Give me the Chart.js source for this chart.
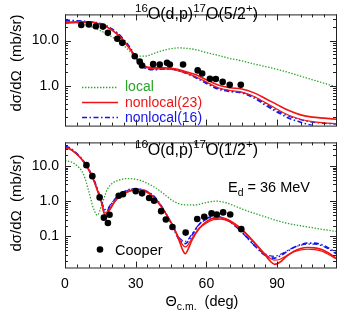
<!DOCTYPE html>
<html><head><meta charset="utf-8">
<script src="https://cdn.jsdelivr.net/npm/chart.js@4"></script>
<style>html,body{margin:0;padding:0;background:#fff}#wrap{position:relative;width:348px;height:312px;overflow:hidden;background:#fff}canvas{position:absolute;left:0}</style>
</head><body><div id="wrap"><canvas id="c1" width="348" height="140" style="top:0;width:348px;height:140px"></canvas><canvas id="c2" width="348" height="184" style="top:128px;width:348px;height:184px"></canvas></div>
<script>
// ---------- DATA ----------
// Top panel: 16O(d,p)17O(5/2+)
const topExpAng = [6.9,10.1,13.1,16.1,18.2,22.2,24.3,29.6,31.7,32.7,37.4,40.2,43.3,44.5,50.1,56.3,58.2,61.5,64.0,66.9,69.9,74.6];
const topExpVal = [22.1,22.8,20.7,20.4,14.8,11.0,8.9,4.5,3.4,2.8,3.0,2.95,3.2,2.95,2.95,2.18,1.86,1.42,1.40,1.21,1.04,1.04];
const topLocalAng = [0,5,10,15,20,25,28,31,34,37,40,45,48,52,56,60,65,70,75,80,85,90,95,100,105,110,115];
const topLocalVal = [26,25,21,16.5,12,7.7,5.5,4.5,4.5,5.0,5.7,6.6,6.85,6.7,6.2,5.4,4.7,4.0,3.55,3.05,2.65,2.3,1.95,1.62,1.35,1.13,0.94];
const topCurveAng = [0,5,10,15,20,24,28,31,34,38,42,46,50,55,60,65,70,75,80,85,90,95,100,105,110,115];
const topNL23aVal = [25,26,26,23,17,11,6,3.6,2.7,2.5,2.5,2.4,2.15,1.78,1.35,1.03,0.9,0.84,0.7,0.52,0.38,0.28,0.225,0.2,0.19,0.18];
const topNL23bVal = [24,25,25.5,23,17,11.5,6.2,3.6,2.6,2.35,2.35,2.25,2.0,1.62,1.2,0.9,0.78,0.72,0.58,0.42,0.3,0.22,0.18,0.16,0.15,0.143];
const topNL16aVal = [28.5,27.5,26,24,18,12,6.5,3.5,2.45,2.25,2.35,2.3,2.0,1.55,1.12,0.84,0.74,0.69,0.54,0.37,0.26,0.19,0.155,0.13,0.115,0.105];
const topNL16bVal = [27,27,26,23.5,17.5,11.8,6.3,3.5,2.5,2.3,2.35,2.3,2.02,1.6,1.18,0.88,0.77,0.71,0.57,0.4,0.28,0.21,0.175,0.155,0.146,0.14];
// Bottom panel: 16O(d,p)17O(1/2+)
const botExpAng = [9.1,11.6,14.7,16.5,18.2,18.9,22.8,24.6,30.0,32.7,35.7,37.8,40.8,42.8,45.6,51.2,56.1,59.1,62.2,64.4,67.1,70.1,74.8];
const botExpVal = [10.6,5.15,1.28,0.34,0.24,0.41,1.43,1.57,1.93,1.67,1.23,1.03,0.52,0.30,0.185,0.128,0.31,0.36,0.45,0.42,0.48,0.42,0.16];
const botLocalAng = [0,4,8,10,12,13.7,15.5,18,20,22.5,26,29,32,35,38,42,46,50,55,60,64,68,72,76,80,85,90,95,100,105,110,115];
const botLocalVal = [14.5,11.7,5.5,2.0,0.65,0.4,0.75,2.2,3.2,3.9,4.4,4.3,3.9,3.2,2.5,1.6,1.0,0.8,0.78,0.92,1.0,0.92,0.73,0.57,0.46,0.36,0.28,0.23,0.2,0.176,0.155,0.138];
const botCurveAng = [0,2,4,6,8,10,12,14,15.5,16.8,18,19,21,23,26,29,31,34,37,40,43,46,48,50,51,52,54,57,60,63,66,69,72,75,78,81,84,87,89,91,94,97,100,103,106,109,112,115];
const botNL23aVal = [33,31,25,19,13,8,4.2,1.8,0.9,0.42,0.47,0.57,0.95,1.35,1.8,2.1,2.15,1.95,1.45,0.85,0.42,0.185,0.09,0.04,0.032,0.04,0.08,0.17,0.26,0.33,0.34,0.3,0.23,0.16,0.1,0.06,0.035,0.02,0.016,0.018,0.027,0.037,0.045,0.048,0.047,0.042,0.033,0.024];
const botNL23bVal = [32,30,24.5,18.5,12.8,7.9,4.2,1.85,0.95,0.48,0.5,0.62,0.95,1.33,1.75,2.05,2.1,1.9,1.42,0.82,0.42,0.19,0.1,0.056,0.05,0.055,0.09,0.17,0.24,0.3,0.31,0.28,0.21,0.15,0.095,0.058,0.036,0.024,0.021,0.022,0.028,0.036,0.041,0.043,0.042,0.038,0.03,0.023];
const botNL16aVal = [36,33,26,19.5,13.5,8.3,4.5,2.0,1.0,0.55,0.55,0.7,1.1,1.55,2.0,2.25,2.25,2.0,1.55,0.9,0.42,0.17,0.09,0.065,0.062,0.068,0.11,0.22,0.32,0.37,0.35,0.29,0.21,0.135,0.082,0.05,0.032,0.025,0.024,0.027,0.036,0.048,0.058,0.064,0.064,0.058,0.046,0.034];
const botNL16bVal = [34,32,25.5,19,13,8.1,4.4,1.95,1.0,0.58,0.6,0.75,1.1,1.5,1.95,2.2,2.2,1.95,1.5,0.88,0.42,0.18,0.1,0.075,0.072,0.078,0.12,0.22,0.3,0.34,0.33,0.28,0.2,0.13,0.08,0.05,0.034,0.028,0.027,0.03,0.038,0.048,0.056,0.06,0.06,0.054,0.043,0.032];
const xTicks = [0,30,60,90];
const yTickDecades = [0.1,1,10];

// ---------- STYLE ----------
const FONT = '"Liberation Sans", Arial, Helvetica, sans-serif';
const GREEN = 'rgb(40,165,40)', RED = 'rgb(240,20,20)', BLUE = 'rgb(20,20,235)';
Chart.defaults.font.family = FONT;
Chart.defaults.font.size = 14;
Chart.defaults.color = '#000';

const pts = (a, v) => a.map((x, i) => ({x: x, y: v[i]}));
function line(a, v, color, dash, w) {
  return {data: pts(a, v), showLine: true, borderColor: color, borderWidth: w, borderDash: dash,
    pointRadius: 0, fill: false, cubicInterpolationMode: 'monotone'};
}
function dots(a, v) {
  return {data: pts(a, v), showLine: false, pointRadius: 3.3, pointBackgroundColor: '#000', pointBorderWidth: 0};
}
const DOT = [1.4, 1.6], DASHDOT = [5, 2.5, 1.5, 2.5];

function rich(ctx, x, y, segs, size, color, align) {
  const f = s => `${s}px ${FONT}`;
  let w = 0;
  segs.forEach(s => { ctx.font = f(s.s ? size * 0.72 : size); w += ctx.measureText(s.t).width; });
  if (align === 'center') x -= w / 2;
  ctx.fillStyle = color; ctx.textBaseline = 'alphabetic'; ctx.textAlign = 'left';
  segs.forEach(s => {
    const sz = s.s ? size * 0.72 : size;
    ctx.font = f(sz);
    const dy = s.s === 'sup' ? -size * 0.42 : (s.s === 'sub' ? size * 0.28 : 0);
    ctx.fillText(s.t, x, y + dy);
    x += ctx.measureText(s.t).width;
  });
}

function frameAndTicks(chart, ctx) {
  const a = chart.chartArea, xs = chart.scales.x, ys = chart.scales.y;
  ctx.save();
  ctx.strokeStyle = '#222'; ctx.lineWidth = 1;
  ctx.strokeRect(a.left + 0.5, a.top + 0.5, a.right - a.left, a.bottom - a.top);
  ctx.beginPath();
  for (let v = 0; v <= xs.max + 1e-9; v += 5) {
    const p = Math.round(xs.getPixelForValue(v)) + 0.5, L = (v % 30 === 0) ? 6 : 3;
    ctx.moveTo(p, a.top); ctx.lineTo(p, a.top + L);
    ctx.moveTo(p, a.bottom); ctx.lineTo(p, a.bottom - L);
  }
  const d0 = Math.floor(Math.log10(ys.min)), d1 = Math.ceil(Math.log10(ys.max));
  for (let d = d0; d <= d1; d++) {
    for (let m = 1; m <= 9; m++) {
      const v = m * Math.pow(10, d);
      if (v < ys.min || v > ys.max) continue;
      const p = Math.round(ys.getPixelForValue(v)) + 0.5, L = m === 1 ? 6 : 3;
      ctx.moveTo(a.left, p); ctx.lineTo(a.left + L, p);
      ctx.moveTo(a.right, p); ctx.lineTo(a.right - L, p);
    }
  }
  ctx.stroke();
  ctx.restore();
}
function yTitle(ctx, cx, cy) {
  ctx.save();
  ctx.translate(cx, cy); ctx.rotate(-Math.PI / 2);
  ctx.font = `15px ${FONT}`; ctx.fillStyle = '#000'; ctx.textAlign = 'center'; ctx.textBaseline = 'middle';
  ctx.fillText('dσ/dΩ  (mb/sr)', 0, 0);
  ctx.restore();
}
function legendLine(ctx, x0, x1, y, color, dash, w) {
  ctx.save(); ctx.beginPath(); ctx.strokeStyle = color; ctx.lineWidth = w; ctx.setLineDash(dash);
  ctx.moveTo(x0, y); ctx.lineTo(x1, y); ctx.stroke(); ctx.restore();
}

const yTickCb = v => {
  const l = Math.log10(v);
  return Math.abs(l - Math.round(l)) < 1e-6 && yTickDecades.some(t => Math.abs(t - v) < 1e-9) ? v.toFixed(1) : null;
};
function yScale(min, max) {
  return {type: 'logarithmic', min: min, max: max,
    grid: {display: false, drawTicks: false}, border: {display: false},
    ticks: {autoSkip: false, padding: 6, color: '#000', font: {size: 14}, callback: yTickCb},
    afterFit: s => { s.width = 65; }};
}

// ---------- TOP CHART ----------
const topDeco = {
  id: 'topDeco',
  afterDraw(chart) {
    const ctx = chart.ctx;
    frameAndTicks(chart, ctx);
    yTitle(ctx, 17, 63);
    rich(ctx, 135, 18.5, [{t: '16', s: 'sup'}, {t: 'O(d,p)'}, {t: '17', s: 'sup'}, {t: 'O(5/2'}, {t: '+', s: 'sup'}, {t: ')'}], 16, '#000');
    legendLine(ctx, 82, 118, 87.5, GREEN, DOT, 1.3);
    legendLine(ctx, 82, 118, 102.5, RED, [], 1.6);
    legendLine(ctx, 82, 118, 117.5, BLUE, DASHDOT, 1.6);
    rich(ctx, 125, 91, [{t: 'local'}], 14, GREEN);
    rich(ctx, 125, 106.5, [{t: 'nonlocal(23)'}], 14, RED);
    rich(ctx, 125, 121.5, [{t: 'nonlocal(16)'}], 14, BLUE);
  }
};
new Chart(document.getElementById('c1'), {
  type: 'scatter',
  data: {datasets: [
    dots(topExpAng, topExpVal),
    line(topCurveAng, topNL23aVal, RED, [], 1.6),
    line(topCurveAng, topNL23bVal, RED, [], 1.2),
    line(topCurveAng, topNL16aVal, BLUE, DASHDOT, 1.6),
    line(topCurveAng, topNL16bVal, BLUE, DASHDOT, 1.2),
    line(topLocalAng, topLocalVal, GREEN, DOT, 1.3)
  ]},
  options: {
    responsive: false, animation: false, devicePixelRatio: 1,
    layout: {padding: {top: 3, bottom: 6, left: 0, right: 12}},
    plugins: {legend: {display: false}, tooltip: {enabled: false}},
    scales: {
      x: {type: 'linear', min: 0, max: 115, display: false},
      y: yScale(0.13, 38)
    }
  },
  plugins: [topDeco]
});

// ---------- BOTTOM CHART ----------
const botDeco = {
  id: 'botDeco',
  afterDraw(chart) {
    const ctx = chart.ctx;
    frameAndTicks(chart, ctx);
    ctx.save(); ctx.translate(0, -128);
    yTitle(ctx, 17, 203);
    rich(ctx, 135, 155, [{t: '16', s: 'sup'}, {t: 'O(d,p)'}, {t: '17', s: 'sup'}, {t: 'O(1/2'}, {t: '+', s: 'sup'}, {t: ')'}], 16, '#000');
    rich(ctx, 228, 192, [{t: 'E'}, {t: 'd', s: 'sub'}, {t: ' = 36 MeV'}], 14.5, '#000');
    ctx.beginPath(); ctx.fillStyle = '#000'; ctx.arc(100, 249.5, 3.3, 0, Math.PI * 2); ctx.fill();
    rich(ctx, 115, 254.5, [{t: 'Cooper'}], 14.5, '#000');
    rich(ctx, 202, 306, [{t: 'Θ'}, {t: 'c.m.', s: 'sub'}, {t: '  (deg)'}], 14.5, '#000', 'center');
    ctx.restore();
  }
};
new Chart(document.getElementById('c2'), {
  type: 'scatter',
  data: {datasets: [
    dots(botExpAng, botExpVal),
    line(botCurveAng, botNL23aVal, RED, [], 1.6),
    line(botCurveAng, botNL23bVal, RED, [], 1.2),
    line(botCurveAng, botNL16aVal, BLUE, DASHDOT, 1.6),
    line(botCurveAng, botNL16bVal, BLUE, DASHDOT, 1.2),
    line(botLocalAng, botLocalVal, GREEN, DOT, 1.3)
  ]},
  options: {
    responsive: false, animation: false, devicePixelRatio: 1,
    layout: {padding: {top: 6, bottom: 0, left: 0, right: 12}},
    plugins: {legend: {display: false}, tooltip: {enabled: false}},
    scales: {
      x: {type: 'linear', min: 0, max: 115,
        grid: {display: false, drawTicks: false}, border: {display: false},
        ticks: {autoSkip: false, padding: 8, color: '#000', font: {size: 14},
          callback: v => xTicks.includes(v) ? String(v) : null, stepSize: 30},
        afterFit: s => { s.height = 44.5; }},
      y: yScale(0.013, 47)
    }
  },
  plugins: [botDeco]
});
</script>
</body></html>
